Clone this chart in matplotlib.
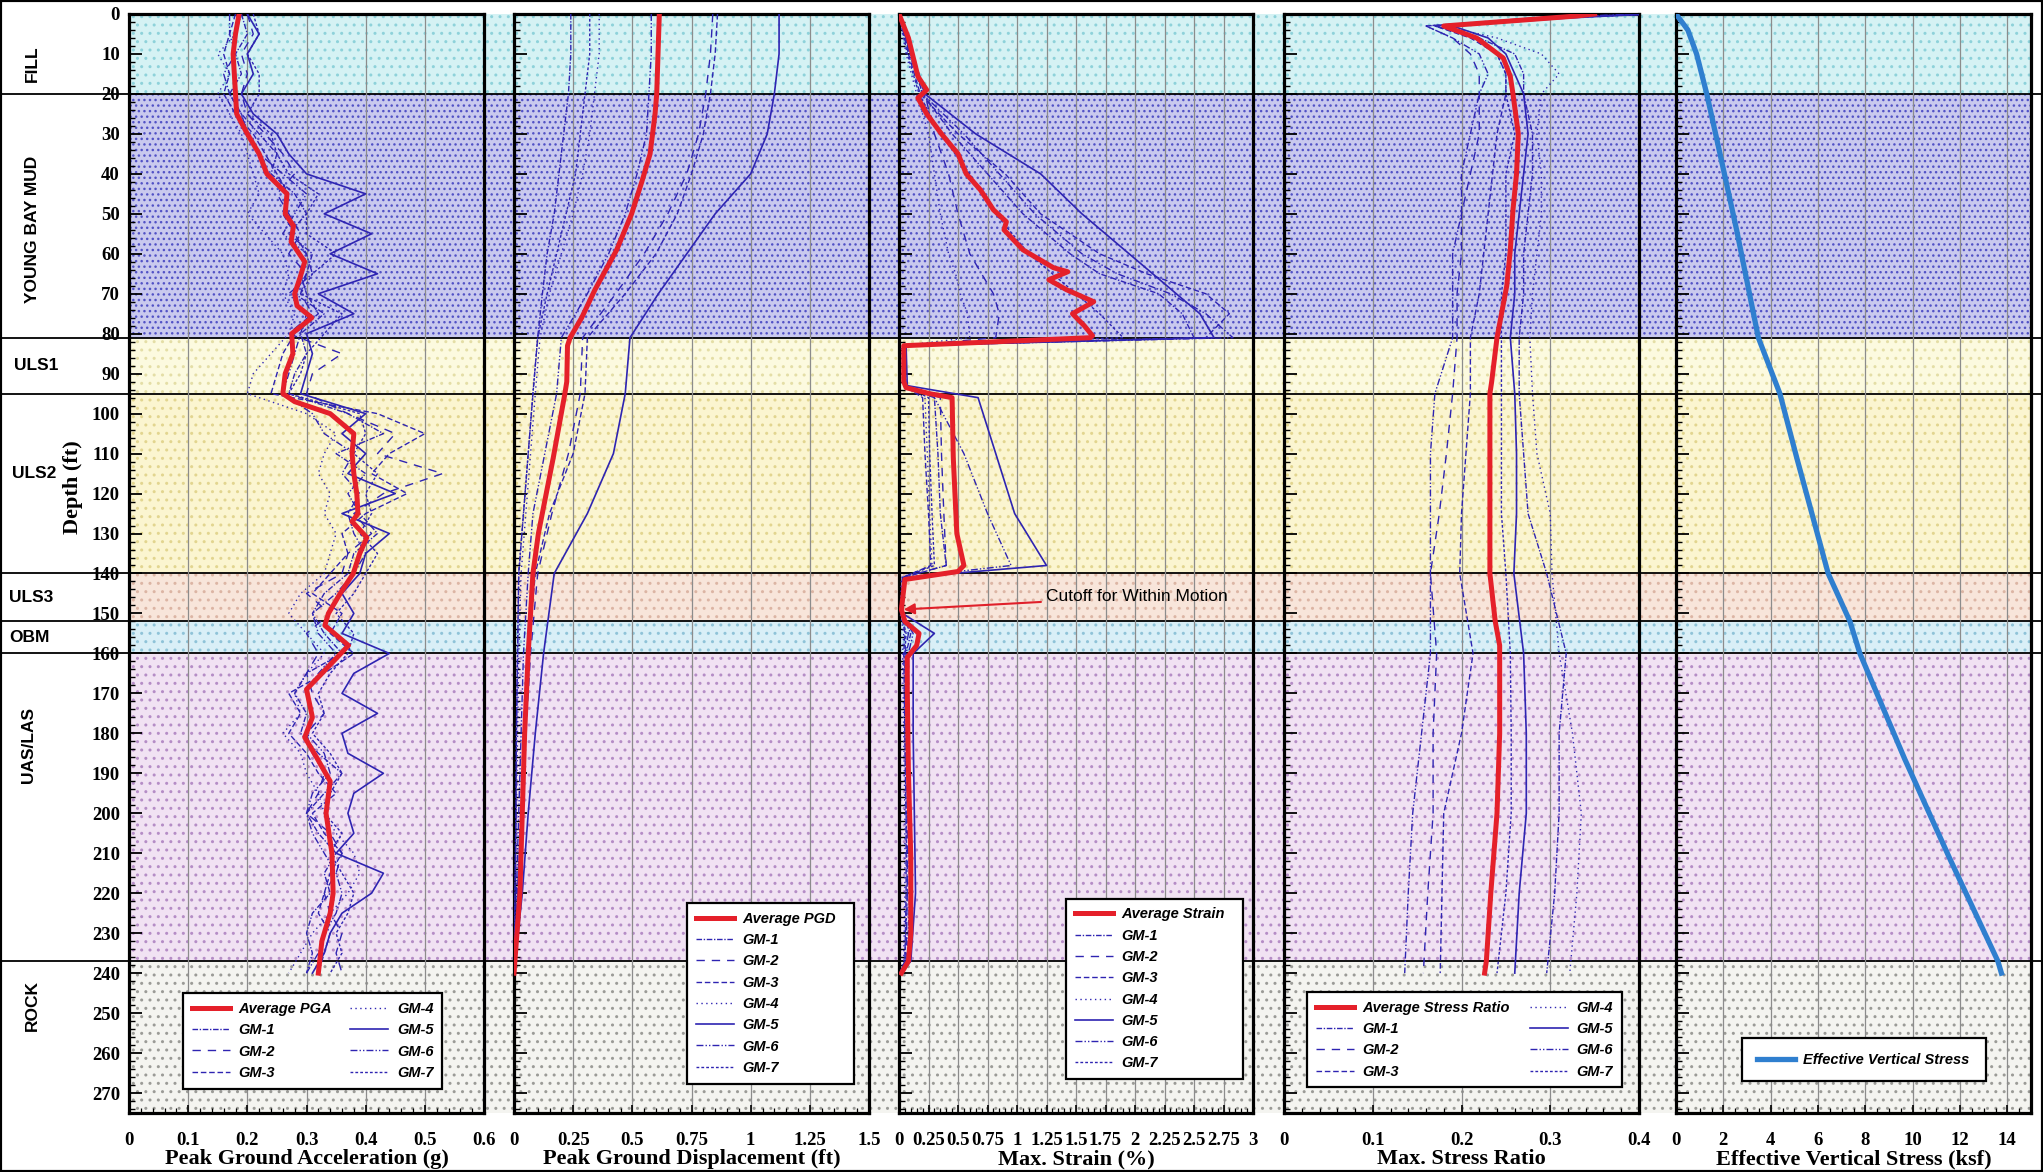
import matplotlib
matplotlib.use("Agg")
import matplotlib.pyplot as plt
from matplotlib.patches import Rectangle
from matplotlib.ticker import MultipleLocator, FuncFormatter

# ---- soil profile ----
layer_names = ["FILL", "YOUNG BAY MUD", "ULS1", "ULS2", "ULS3", "OBM", "UAS/LAS", "ROCK"]
layer_tops = [0, 20, 81, 95, 140, 152, 160, 237]
layer_bottoms = [20, 81, 95, 140, 152, 160, 237, 275]

# ---- peak ground acceleration (g) ----
pga_depth = [0, 5, 10, 15, 20, 25, 30, 35, 40, 45, 50, 55, 60, 65, 70, 75, 80, 85, 90, 95,
             100, 105, 110, 115, 120, 125, 130, 135, 140, 145, 150, 155, 160, 165, 170, 175,
             180, 185, 190, 195, 200, 205, 210, 215, 220, 225, 230, 235, 240]
pga_gm = [
    [.19, .20, .18, .19, .17, .19, .22, .25, .24, .28, .30, .27, .31, .30, .28, .33, .29,
     .30, .28, .27, .37, .43, .35, .40, .37, .39, .42, .38, .37, .33, .31, .33, .36, .30,
     .28, .30, .29, .32, .36, .33, .30, .32, .35, .33, .34, .31, .30, .31, .30],
    [.20, .21, .19, .20, .19, .20, .23, .26, .28, .25, .27, .29, .27, .30, .29, .31, .27,
     .36, .31, .30, .37, .45, .42, .53, .43, .38, .41, .37, .36, .30, .34, .30, .32, .30,
     .31, .33, .30, .31, .33, .32, .30, .34, .36, .35, .33, .34, .36, .35, .36],
    [.18, .17, .16, .17, .16, .18, .21, .23, .25, .27, .26, .28, .30, .29, .30, .32, .28,
     .26, .25, .24, .42, .50, .44, .41, .47, .40, .36, .37, .34, .31, .36, .34, .38, .33,
     .27, .29, .27, .30, .32, .35, .31, .33, .36, .34, .33, .32, .34, .33, .32],
    [.19, .18, .15, .17, .15, .17, .19, .20, .21, .22, .20, .23, .26, .27, .26, .28, .27,
     .24, .21, .20, .30, .35, .33, .32, .34, .33, .35, .34, .33, .29, .27, .30, .33, .30,
     .28, .29, .26, .29, .30, .32, .33, .35, .38, .39, .37, .34, .31, .29, .27],
    [.20, .22, .20, .21, .19, .21, .25, .27, .30, .40, .33, .41, .34, .42, .32, .38, .30,
     .31, .30, .29, .40, .36, .40, .37, .45, .36, .44, .40, .39, .36, .38, .36, .44, .38,
     .36, .42, .36, .37, .43, .38, .37, .38, .35, .43, .41, .36, .34, .33, .31],
    [.17, .17, .18, .16, .17, .19, .20, .22, .26, .30, .28, .26, .30, .31, .27, .30, .29,
     .28, .27, .26, .31, .33, .38, .36, .39, .37, .38, .40, .38, .35, .31, .32, .35, .32,
     .30, .31, .30, .33, .34, .31, .30, .31, .33, .35, .36, .35, .33, .32, .30],
    [.21, .22, .20, .22, .22, .20, .24, .25, .27, .32, .30, .30, .35, .31, .29, .36, .33,
     .30, .29, .27, .39, .40, .38, .42, .40, .41, .39, .42, .40, .38, .35, .38, .37, .34,
     .32, .33, .31, .34, .36, .34, .33, .36, .34, .36, .38, .37, .35, .36, .34],
]
pga_avg_depth = [0, 5, 10, 15, 20, 25, 30, 35, 40, 45, 50, 53, 57, 62, 66, 70, 73, 76, 80,
                 85, 90, 95, 97, 100, 105, 110, 115, 120, 125, 127, 131, 135, 140, 145, 150,
                 153, 158, 165, 169, 176, 181, 186, 192, 200, 210, 220, 225, 232, 240]
pga_avg = [0.186, 0.18, 0.176, 0.178, 0.18, 0.182, 0.20, 0.22, 0.233, 0.267, 0.264, 0.278,
           0.274, 0.297, 0.289, 0.28, 0.284, 0.309, 0.275, 0.277, 0.264, 0.26, 0.28, 0.34,
           0.38, 0.377, 0.38, 0.385, 0.387, 0.377, 0.402, 0.39, 0.379, 0.357, 0.337, 0.331,
           0.371, 0.326, 0.30, 0.31, 0.297, 0.317, 0.34, 0.333, 0.343, 0.345, 0.34, 0.326, 0.32]

# ---- peak ground displacement (ft) ----
pgd_depth = [0, 10, 20, 30, 40, 50, 60, 70, 81, 95, 110, 125, 140, 160, 180, 200, 220, 240]
pgd_gm = [
    [0.24, 0.24, 0.23, 0.21, 0.19, 0.17, 0.14, 0.12, 0.10, 0.08, 0.06, 0.04, 0.02, 0.015, 0.01, 0.008, 0.004, 0],
    [0.84, 0.83, 0.81, 0.78, 0.73, 0.65, 0.55, 0.43, 0.29, 0.28, 0.23, 0.16, 0.10, 0.07, 0.05, 0.03, 0.015, 0],
    [0.86, 0.85, 0.83, 0.80, 0.75, 0.69, 0.60, 0.47, 0.31, 0.30, 0.25, 0.15, 0.09, 0.06, 0.045, 0.03, 0.015, 0],
    [0.36, 0.36, 0.34, 0.32, 0.29, 0.25, 0.20, 0.15, 0.11, 0.09, 0.07, 0.05, 0.03, 0.02, 0.015, 0.01, 0.005, 0],
    [1.12, 1.12, 1.10, 1.07, 1.00, 0.85, 0.73, 0.61, 0.49, 0.47, 0.42, 0.31, 0.17, 0.125, 0.09, 0.06, 0.035, 0],
    [0.58, 0.58, 0.57, 0.56, 0.52, 0.47, 0.40, 0.31, 0.20, 0.18, 0.13, 0.08, 0.06, 0.04, 0.03, 0.02, 0.01, 0],
    [0.32, 0.32, 0.30, 0.28, 0.26, 0.22, 0.18, 0.14, 0.10, 0.08, 0.06, 0.04, 0.02, 0.015, 0.01, 0.008, 0.004, 0],
]
pgd_avg_depth = [0, 20, 25, 35, 42, 50, 59, 69, 76, 81, 83, 92, 95, 111, 130, 140, 160, 180, 200, 220, 240]
pgd_avg = [0.614, 0.603, 0.596, 0.575, 0.54, 0.497, 0.434, 0.342, 0.286, 0.237, 0.226, 0.223,
           0.215, 0.166, 0.103, 0.08, 0.06, 0.045, 0.035, 0.025, 0.0]

# ---- max. strain (%) ----
strain_depth = [0, 10, 20, 30, 40, 50, 60, 65, 70, 75, 81, 83, 93, 96, 110, 125, 138, 141,
                150, 155, 160, 180, 200, 220, 237, 240]
strain_gm = [
    [0, 0.10, 0.20, 0.45, 0.75, 1.05, 1.45, 1.70, 2.20, 2.40, 2.50, 0.04, 0.05, 0.30, 0.33, 0.35, 0.40, 0.04, 0.02, 0.10, 0.06, 0.07, 0.08, 0.09, 0.07, 0.02],
    [0, 0.12, 0.22, 0.30, 0.42, 0.50, 0.60, 0.70, 0.80, 0.85, 0.82, 0.05, 0.05, 0.35, 0.36, 0.38, 0.40, 0.03, 0.02, 0.08, 0.05, 0.06, 0.07, 0.07, 0.06, 0.01],
    [0, 0.08, 0.18, 0.50, 0.90, 1.20, 1.70, 2.10, 2.60, 2.80, 2.60, 0.03, 0.04, 0.20, 0.22, 0.25, 0.27, 0.03, 0.02, 0.05, 0.04, 0.05, 0.06, 0.06, 0.05, 0.01],
    [0, 0.06, 0.15, 0.25, 0.30, 0.35, 0.42, 0.48, 0.52, 0.58, 0.60, 0.02, 0.03, 0.22, 0.24, 0.26, 0.28, 0.02, 0.01, 0.04, 0.03, 0.04, 0.05, 0.05, 0.04, 0.01],
    [0, 0.10, 0.22, 0.65, 1.20, 1.55, 1.95, 2.15, 2.35, 2.55, 2.67, 0.06, 0.07, 0.67, 0.82, 0.98, 1.25, 0.05, 0.03, 0.30, 0.12, 0.12, 0.13, 0.14, 0.10, 0.02],
    [0, 0.09, 0.20, 0.55, 0.85, 1.15, 1.55, 1.85, 2.30, 2.60, 2.83, 0.04, 0.06, 0.30, 0.55, 0.75, 0.95, 0.04, 0.02, 0.12, 0.08, 0.08, 0.09, 0.10, 0.08, 0.02],
    [0, 0.07, 0.17, 0.35, 0.60, 0.82, 1.10, 1.30, 1.50, 1.70, 1.90, 0.03, 0.04, 0.25, 0.26, 0.28, 0.30, 0.03, 0.02, 0.06, 0.05, 0.05, 0.06, 0.07, 0.05, 0.01],
]
strain_avg_depth = [0, 6, 15.6, 19, 21, 25, 30, 35, 40, 44, 49, 52, 54, 59, 63.5, 64.5, 66.5,
                    69, 72, 75, 78, 80.5, 81, 83, 92, 93.5, 95, 96, 111, 130, 138, 139.5,
                    141.5, 149, 152, 155, 158, 161, 169, 190, 211, 230, 237, 240]
strain_avg = [0, 0.08, 0.16, 0.235, 0.16, 0.235, 0.36, 0.5, 0.57, 0.69, 0.8, 0.91, 0.89,
              1.05, 1.31, 1.43, 1.27, 1.42, 1.65, 1.47, 1.57, 1.64, 1.62, 0.04, 0.04, 0.06,
              0.26, 0.45, 0.46, 0.49, 0.55, 0.5, 0.05, 0.02, 0.05, 0.17, 0.15, 0.07, 0.07,
              0.08, 0.1, 0.1, 0.08, 0.02]

# ---- max. stress ratio ----
ratio_depth = [0, 1, 3, 6, 10, 15, 20, 30, 40, 50, 60, 70, 81, 95, 110, 125, 140, 160, 180, 200, 220, 240]
ratio_gm = [
    [0.42, 0.30, 0.17, 0.22, 0.26, 0.27, 0.27, 0.28, 0.28, 0.275, 0.27, 0.27, 0.265, 0.265, 0.27, 0.275, 0.296, 0.318, 0.31, 0.31, 0.305, 0.296],
    [0.40, 0.28, 0.16, 0.19, 0.21, 0.22, 0.22, 0.22, 0.21, 0.20, 0.20, 0.195, 0.195, 0.19, 0.183, 0.175, 0.165, 0.172, 0.168, 0.168, 0.162, 0.157],
    [0.41, 0.29, 0.17, 0.21, 0.24, 0.25, 0.25, 0.24, 0.235, 0.23, 0.225, 0.22, 0.21, 0.21, 0.205, 0.20, 0.198, 0.213, 0.20, 0.18, 0.178, 0.176],
    [0.42, 0.31, 0.18, 0.24, 0.29, 0.31, 0.29, 0.285, 0.29, 0.29, 0.285, 0.28, 0.277, 0.28, 0.285, 0.30, 0.302, 0.31, 0.325, 0.335, 0.33, 0.322],
    [0.41, 0.32, 0.19, 0.23, 0.25, 0.26, 0.27, 0.275, 0.27, 0.265, 0.26, 0.26, 0.255, 0.26, 0.262, 0.262, 0.259, 0.27, 0.273, 0.273, 0.265, 0.26],
    [0.40, 0.29, 0.16, 0.19, 0.22, 0.23, 0.22, 0.21, 0.20, 0.20, 0.19, 0.19, 0.19, 0.17, 0.165, 0.165, 0.165, 0.165, 0.155, 0.145, 0.14, 0.136],
    [0.41, 0.30, 0.17, 0.22, 0.24, 0.25, 0.25, 0.26, 0.25, 0.25, 0.25, 0.245, 0.245, 0.245, 0.245, 0.245, 0.25, 0.255, 0.256, 0.256, 0.25, 0.24],
]
ratio_avg_depth = [0, 0.5, 3, 6, 11, 15.6, 20, 30, 40, 49, 59, 68, 81, 92, 95, 111, 140, 152,
                   158, 180, 200, 220, 237, 240]
ratio_avg = [0.35, 0.33, 0.18, 0.217, 0.247, 0.255, 0.258, 0.264, 0.262, 0.258, 0.255, 0.251,
             0.24, 0.234, 0.232, 0.232, 0.232, 0.238, 0.243, 0.243, 0.24, 0.233, 0.228, 0.226]

# ---- effective vertical stress (ksf) ----
evs_depth = [0, 4, 10, 20, 35, 54, 81, 95, 111, 140, 152, 160, 186.5, 211.5, 237, 240]
evs = [0, 0.5, 0.87, 1.3, 1.86, 2.56, 3.48, 4.39, 5.1, 6.43, 7.35, 7.77, 9.67, 11.58, 13.6, 13.75]

gm_labels = ["GM-1", "GM-2", "GM-3", "GM-4", "GM-5", "GM-6", "GM-7"]

# ---- styling ----
W, H = 2043, 1172
SERIF = "Liberation Serif"
SANS = "Liberation Sans"
layer_face = ["#d5f2f4", "#c9c9ee", "#fcfadf", "#fbf5d0", "#f8e5da", "#d9eff7", "#f1e2f3", "#f4f4f0"]
layer_dot = ["#8ed2da", "#5252c6", "#e4dea6", "#e2d58f", "#dcb5a4", "#8fc3d8", "#b58dc6", "#9b9b97"]
layer_hatch = ["..", "...", "..", "..", "..", "..", "..", ".."]
label_x = [32, 33, 36, 34, 31, 29, 29, 32]
label_depth = [12.5, 54, 88, 115, 146, 156, 183, 248]
label_rot = [90, 90, 0, 0, 0, 0, 90, 90]
gm_color = "#2e24b2"
gm_styles = [(0, (4, 1.2, 1, 1.2)), (0, (6, 5)), (0, (4, 2)), (0, (1, 2.5)), "-",
             (0, (5, 1.5, 1, 1.5, 1, 1.5)), (0, (2, 1.5))]
avg_color = "#e5202a"

panel_left = [129, 514, 899, 1284, 1676]
panel_w = [355, 355, 354, 355, 355]
ax_top, ax_bot = 14, 1113
bottom = (H - ax_bot) / H
height = (ax_bot - ax_top) / H

fig = plt.figure(figsize=(W / 100, H / 100), dpi=100)
fig.patch.set_facecolor("white")

# background layer bands spanning all panels
bg = fig.add_axes([0, bottom, 1, height])
bg.set_xlim(0, 1)
bg.set_ylim(275, 0)
bg.axis("off")
x_start = panel_left[0] / W
x_end = (panel_left[-1] + panel_w[-1]) / W
for top, bot, fc, dc, ht in zip(layer_tops, layer_bottoms, layer_face, layer_dot, layer_hatch):
    bg.axhspan(top, bot, xmin=x_start, xmax=x_end, facecolor=fc, edgecolor=dc,
               hatch=ht, linewidth=0, zorder=0)
for b in layer_tops[1:]:
    bg.axhline(b, color="black", lw=1.3, zorder=1)
for name, lx, ld, rot in zip(layer_names, label_x, label_depth, label_rot):
    bg.text(lx / W, ld, name, rotation=rot, ha="center", va="center",
            fontsize=12.5, fontweight="bold", family=SANS)

fig.text(73 / W, 1 - 487 / H, "Depth (ft)", rotation=90, ha="center", va="center",
         fontsize=16, fontweight="bold", family=SERIF)

xlims = [(0, 0.6), (0, 1.5), (0, 3), (0, 0.4), (0, 15)]
xmajor = [0.1, 0.25, 0.25, 0.1, 2]
xminor = [0.02, 0.05, 0.05, 0.02, 0.5]
xlabels = ["Peak Ground Acceleration (g)", "Peak Ground Displacement (ft)",
           "Max. Strain (%)", "Max. Stress Ratio", "Effective Vertical Stress (ksf)"]

axes = []
for i in range(5):
    ax = fig.add_axes([panel_left[i] / W, bottom, panel_w[i] / W, height])
    ax.set_facecolor("none")
    ax.set_xlim(*xlims[i])
    ax.set_ylim(275, 0)
    ax.xaxis.set_major_locator(MultipleLocator(xmajor[i]))
    ax.xaxis.set_minor_locator(MultipleLocator(xminor[i]))
    ax.xaxis.set_major_formatter(FuncFormatter(lambda v, p: f"{v:g}"))
    ax.yaxis.set_major_locator(MultipleLocator(10))
    ax.yaxis.set_minor_locator(MultipleLocator(2))
    ax.tick_params(axis="y", which="major", direction="in", length=9, width=1.3,
                   left=True, right=False, labelleft=(i == 0), pad=6.5)
    ax.tick_params(axis="y", which="minor", direction="in", length=4.5, width=1.0)
    ax.tick_params(axis="x", which="major", direction="in", length=6, width=1.2, pad=14)
    ax.tick_params(axis="x", which="minor", direction="in", length=3.5, width=0.9)
    for lab in ax.get_xticklabels() + ax.get_yticklabels():
        lab.set_family(SERIF)
        lab.set_fontweight("bold")
        lab.set_fontsize(13.5)
    ax.grid(axis="x", which="major", color="#8c8c8c", lw=0.9)
    ax.set_axisbelow(True)
    for sp in ax.spines.values():
        sp.set_linewidth(2.3)
        sp.set_color("black")
    ax.set_xlabel(xlabels[i], fontsize=16, fontweight="bold", family=SERIF, labelpad=0)
    axes.append(ax)

ax1, ax2, ax3, ax4, ax5 = axes


def draw_motions(ax, depth, gms, avg_depth, avg, avg_label):
    handles = [ax.plot(avg, avg_depth, color=avg_color, lw=3.6, zorder=5, label=avg_label)[0]]
    for vals, ls, lab in zip(gms, gm_styles, gm_labels):
        lw = 1.2 if ls == "-" else 1.0
        h, = ax.plot(vals, depth, color=gm_color, ls=ls, lw=lw, zorder=4, label=lab)
        handles.append(h)
    return handles


legend_font = {"family": SANS, "weight": "bold", "style": "italic", "size": 10.5}


def add_legend(ax, handles, ncol, x0, w, top, pad=0.6):
    leg = ax.legend(handles=handles, ncol=ncol, loc="upper left", mode="expand",
                    bbox_to_anchor=(x0, 0, w, top), prop=legend_font, fancybox=False,
                    framealpha=1, edgecolor="black", handlelength=2.6, handletextpad=0.6,
                    labelspacing=0.5, columnspacing=0.4, borderpad=pad, borderaxespad=0)
    leg.get_frame().set_linewidth(1.6)
    leg.set_zorder(10)
    return leg


h1 = draw_motions(ax1, pga_depth, pga_gm, pga_avg_depth, pga_avg, "Average PGA")
add_legend(ax1, h1, 2, 0.152, 0.73, 0.109)

h2 = draw_motions(ax2, pgd_depth, pgd_gm, pgd_avg_depth, pgd_avg, "Average PGD")
add_legend(ax2, h2, 1, 0.487, 0.47, 0.191)

h3 = draw_motions(ax3, strain_depth, strain_gm, strain_avg_depth, strain_avg, "Average Strain")
add_legend(ax3, h3, 1, 0.472, 0.50, 0.195)
ax3.annotate("Cutoff for Within Motion", xy=(0.04, 149), xytext=(1.25, 145.8),
             fontsize=12.5, family=SANS, ha="left", va="center", zorder=12,
             arrowprops=dict(arrowstyle="-|>", color="#e0202a", lw=1.5, mutation_scale=16,
                             shrinkA=2, shrinkB=0))

h4 = draw_motions(ax4, ratio_depth, ratio_gm, ratio_avg_depth, ratio_avg, "Average Stress Ratio")
add_legend(ax4, h4, 2, 0.065, 0.887, 0.110)

h5, = ax5.plot(evs, evs_depth, color="#2f7fcf", lw=3.8, zorder=5, label="Effective Vertical Stress")
add_legend(ax5, [h5], 1, 0.186, 0.687, 0.068, pad=1.0)

fig.add_artist(Rectangle((0, 0), 1, 1, transform=fig.transFigure, fill=False,
                         lw=3, edgecolor="black"))

fig.savefig("out.png", dpi=100)
